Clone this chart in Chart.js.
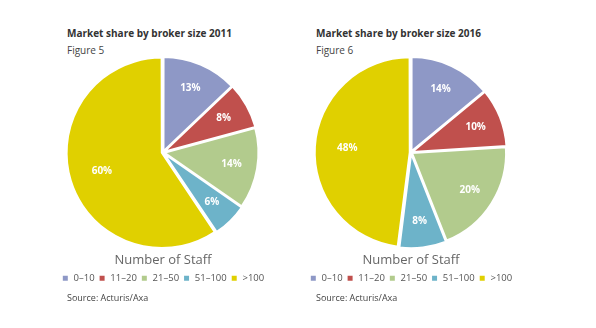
<!DOCTYPE html>
<html>
<head>
<meta charset="utf-8">
<script src="https://cdn.jsdelivr.net/npm/chart.js@4/dist/chart.umd.min.js"></script>
<style>
  body { margin: 0; background: #fff; font-family: "Open Sans", sans-serif; }
  .title { position: absolute; font-size: 10px; font-weight: bold; color: #333; }
  .fig { position: absolute; font-size: 10px; color: #444; }
  .src { position: absolute; font-size: 9px; color: #444; }
  .box { position: absolute; width: 240px; height: 238px; }
</style>
</head>
<body>
<div class="title" style="left:67px;top:26px">Market share by broker size 2011</div>
<div class="fig" style="left:67px;top:43px">Figure 5</div>
<div class="box" style="left:43px;top:55px"><canvas id="c2011"></canvas></div>
<div class="src" style="left:67px;top:291px">Source: Acturis/Axa</div>

<div class="title" style="left:316px;top:26px">Market share by broker size 2016</div>
<div class="fig" style="left:316px;top:43px">Figure 6</div>
<div class="box" style="left:291px;top:55px"><canvas id="c2016"></canvas></div>
<div class="src" style="left:316px;top:291px">Source: Acturis/Axa</div>

<script>
const categories = ['0–10', '11–20', '21–50', '51–100', '>100'];
const share2011 = [13, 8, 14, 6, 60];
const share2016 = [14, 10, 20, 8, 48];
const colors = ['#8e98c6', '#c0504d', '#b2cb8d', '#6db3c9', '#e0d000'];

// white percentage labels inside slices
const sliceLabels = {
  id: 'sliceLabels',
  afterDatasetsDraw(chart) {
    const ctx = chart.ctx;
    const meta = chart.getDatasetMeta(0);
    ctx.save();
    ctx.fillStyle = '#fff';
    ctx.font = 'bold 10px "Open Sans", sans-serif';
    ctx.textAlign = 'center';
    ctx.textBaseline = 'middle';
    meta.data.forEach((arc, i) => {
      const mid = (arc.startAngle + arc.endAngle) / 2;
      const r = arc.outerRadius * (i === 4 ? 0.68 : 0.74);
      ctx.fillText(chart.data.datasets[0].data[i] + '%', arc.x + Math.cos(mid) * r, arc.y + Math.sin(mid) * r);
    });
    ctx.restore();
  }
};

function makePie(id, values) {
  new Chart(document.getElementById(id), {
    type: 'pie',
    data: {
      labels: categories,
      datasets: [{
        data: values,
        backgroundColor: colors,
        borderColor: '#fff',
        borderWidth: 2,
        offset: 5
      }]
    },
    options: {
      responsive: true,
      maintainAspectRatio: false,
      animation: false,
      layout: { padding: 0 },
      plugins: {
        tooltip: { enabled: false },
        legend: {
          position: 'bottom',
          title: {
            display: true,
            text: 'Number of Staff',
            color: '#666',
            font: { size: 13, family: '"Open Sans", sans-serif' },
            padding: { top: 4, bottom: 0 }
          },
          labels: {
            boxWidth: 7,
            boxHeight: 7,
            padding: 4,
            color: '#555',
            font: { size: 9.5, family: '"Open Sans", sans-serif' }
          }
        }
      }
    },
    plugins: [sliceLabels]
  });
}

makePie('c2011', share2011);
makePie('c2016', share2016);
</script>
</body>
</html>
